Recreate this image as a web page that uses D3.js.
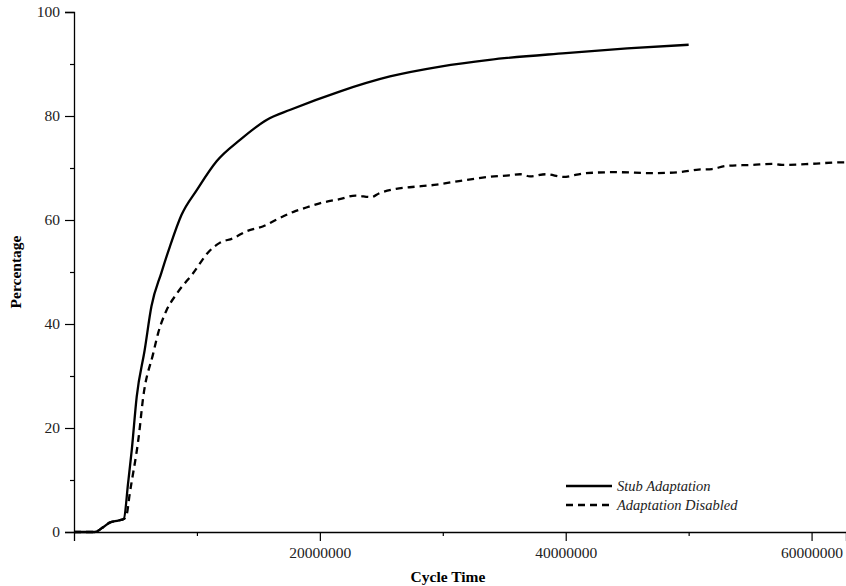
<!DOCTYPE html>
<html>
<head>
<meta charset="utf-8">
<script src="https://cdn.jsdelivr.net/npm/d3@7"></script>
<style>
  body { margin: 0; background: #fff; }
  svg { display: block; }
  text { font-family: "Liberation Serif", "Times New Roman", serif; }
</style>
</head>
<body>
<div id="chart"></div>
<script>
// cycle time in millions, percentage
var stubX = [0, 1.7, 2.3, 2.9, 3.6, 4.05, 4.4, 4.7, 5.1, 5.75, 6.3, 7.1, 7.8, 8.75, 10.0, 11.6, 13.5, 15.7, 17.6, 21.6, 25.7, 29.8, 33.8, 40, 45, 50];
var stubY = [0, 0, 0.8, 1.8, 2.2, 2.5, 9.4, 15.8, 26, 35, 43.4, 49.8, 54.9, 61, 65.8, 71.3, 75.4, 79.3, 81.2, 84.7, 87.6, 89.5, 90.8, 92.1, 93.0, 93.7];

var disX = [0, 1.7, 2.3, 2.9, 3.6, 4.05, 4.3, 4.5, 5.3, 5.6, 6.45, 6.85, 7.5, 8.35, 9.7, 11.0, 11.85, 12.95, 14.0, 15.4, 16.5, 18.0, 18.9, 20.3, 21.6, 22.9, 24.2, 24.8, 26.2, 27.3, 29.5, 31.6, 33.8, 35.4, 36.3, 37.1, 38.4, 39.8, 41.6, 44.1, 47, 49.2, 50.8, 51.9, 53, 55.2, 56.8, 57.6, 60, 62.5, 62.8];
var disY = [0, 0, 0.8, 1.8, 2.2, 2.5, 3.5, 6.8, 19, 25.4, 34.4, 38.3, 42.5, 45.8, 49.8, 54.0, 55.6, 56.5, 57.8, 58.8, 60.1, 61.7, 62.4, 63.4, 64.0, 64.7, 64.4, 65.1, 66.0, 66.3, 66.8, 67.6, 68.3, 68.6, 68.8, 68.4, 68.8, 68.3, 69.0, 69.2, 69.0, 69.2, 69.7, 69.8, 70.4, 70.6, 70.8, 70.6, 70.8, 71.1, 71.1];

var seriesNames = ["Stub Adaptation", "Adaptation Disabled"];
var xMajor = [20000000, 40000000, 60000000];
var xMinor = [10000000, 30000000, 50000000];
var yMajor = [0, 20, 40, 60, 80, 100];
var yMinor = [10, 30, 50, 70, 90];

var width = 846;
var height = 586;
var margin = { top: 12, right: 0, bottom: 54, left: 74 };

var svg = d3.select("#chart")
  .append("svg")
  .attr("width", width)
  .attr("height", height);

var x = d3.scaleLinear()
  .domain([0, 62.8e6])
  .range([margin.left, width - margin.right]);

var y = d3.scaleLinear()
  .domain([0, 100])
  .range([height - margin.bottom, margin.top]);

// axes
function xAxis(g) {
  g.attr("transform", `translate(0,${height - margin.bottom})`)
    .call(d3.axisBottom(x).tickValues(xMajor).tickSize(9).tickPadding(6).tickFormat(d3.format("d")))
    .call(g => g.select(".domain").attr("stroke-width", 1.3))
    .attr("font-size", "15.5px")
    .attr("font-family", "Liberation Serif");
}
function xAxisMinor(g) {
  g.attr("transform", `translate(0,${height - margin.bottom})`)
    .call(d3.axisBottom(x).tickValues(xMinor).tickSize(4).tickFormat(""))
    .call(g => g.select(".domain").remove());
}
function yAxis(g) {
  g.attr("transform", `translate(${margin.left},0)`)
    .call(d3.axisLeft(y).tickValues(yMajor).tickSize(9).tickPadding(5))
    .call(g => g.select(".domain").attr("stroke-width", 1.3))
    .attr("font-size", "15.5px")
    .attr("font-family", "Liberation Serif");
}
function yAxisMinor(g) {
  g.attr("transform", `translate(${margin.left},0)`)
    .call(d3.axisLeft(y).tickValues(yMinor).tickSize(4).tickFormat(""))
    .call(g => g.select(".domain").remove());
}

svg.append("g").call(xAxis);
svg.append("g").call(xAxisMinor);
svg.append("g").call(yAxis);
svg.append("g").call(yAxisMinor);
svg.selectAll(".tick line").attr("stroke-width", 1.2);
svg.selectAll(".tick text").attr("fill", "#222");

// axis titles
svg.append("text")
  .attr("x", 448)
  .attr("y", 582)
  .attr("text-anchor", "middle")
  .attr("font-weight", "bold")
  .attr("font-size", "15.5px")
  .text("Cycle Time");

svg.append("text")
  .attr("transform", "translate(21,272) rotate(-90)")
  .attr("text-anchor", "middle")
  .attr("font-weight", "bold")
  .attr("font-size", "15.5px")
  .text("Percentage");

// lines
var line = d3.line()
  .x(d => x(d[0] * 1e6))
  .y(d => y(d[1]))
  .curve(d3.curveMonotoneX);

var stubData = stubX.map((v, i) => [v, stubY[i]]);
var disData = disX.map((v, i) => [v, disY[i]]);

svg.append("path")
  .datum(disData)
  .attr("fill", "none")
  .attr("stroke", "#000")
  .attr("stroke-width", 2.3)
  .attr("stroke-dasharray", "7,5")
  .attr("d", line);

svg.append("path")
  .datum(stubData)
  .attr("fill", "none")
  .attr("stroke", "#000")
  .attr("stroke-width", 2.3)
  .attr("d", line);

// legend
var legend = svg.append("g");
var legY = [486, 505];
var dashes = [null, "7,5"];
seriesNames.forEach(function (name, i) {
  legend.append("line")
    .attr("x1", 566).attr("x2", 612)
    .attr("y1", legY[i]).attr("y2", legY[i])
    .attr("stroke", "#000")
    .attr("stroke-width", 2.3)
    .attr("stroke-dasharray", dashes[i]);
  legend.append("text")
    .attr("x", 617)
    .attr("y", legY[i] + 5)
    .attr("font-style", "italic")
    .attr("font-size", "14.5px")
    .attr("fill", "#222")
    .text(name);
});
</script>
</body>
</html>
